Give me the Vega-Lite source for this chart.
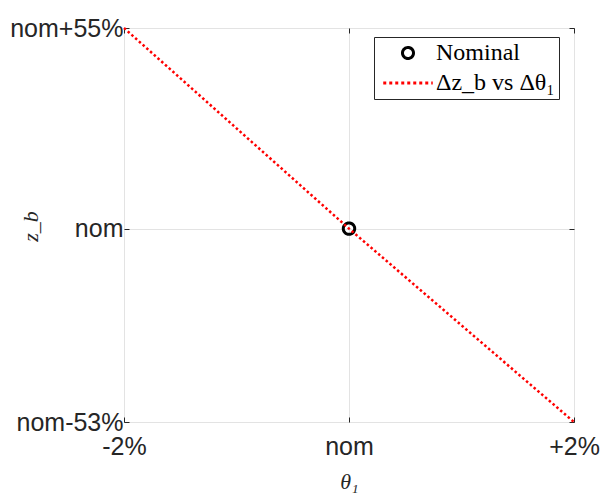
{
  "$schema": "https://vega.github.io/schema/vega-lite/v6.json",
  "width": 450,
  "height": 394,
  "autosize": {"type": "none"},
  "padding": {"left": 124, "top": 28, "right": 27, "bottom": 73},
  "background": "white",
  "data": {
    "values": [
      {"series": "Nominal", "t": 0, "z": 0},
      {"series": "Δz_b vs Δθ₁", "t": -2, "z": 55},
      {"series": "Δz_b vs Δθ₁", "t": 0, "z": 0},
      {"series": "Δz_b vs Δθ₁", "t": 2, "z": -53}
    ]
  },
  "config": {
    "view": {"stroke": "#262626", "strokeWidth": 1},
    "axis": {
      "domain": false,
      "tickColor": "#262626",
      "tickSize": -5,
      "tickWidth": 1,
      "labelFont": "Liberation Sans",
      "labelFontSize": 25,
      "labelColor": "#262626",
      "labelFlush": false,
      "gridColor": "#e3e3e3",
      "gridWidth": 1,
      "titleFont": "Liberation Serif",
      "titleFontStyle": "italic",
      "titleFontWeight": "normal",
      "titleFontSize": 22,
      "titleColor": "#262626"
    }
  },
  "layer": [
    {
      "transform": [{"filter": "datum.series === 'Nominal'"}],
      "mark": {"type": "point", "filled": false, "size": 130, "strokeWidth": 3, "opacity": 1},
      "encoding": {
        "x": {
          "field": "t", "type": "quantitative",
          "scale": {"domain": [-2, 2], "nice": false, "zero": false},
          "axis": {"orient": "top", "values": [-2, 0, 2], "labels": false, "grid": false, "title": null}
        },
        "y": {
          "field": "z", "type": "quantitative",
          "scale": {"domain": [-53, 55], "nice": false, "zero": false},
          "axis": {"orient": "right", "values": [-53, 0, 55], "labels": false, "grid": false, "title": null}
        },
        "color": {
          "field": "series", "type": "nominal",
          "scale": {"domain": ["Nominal", "Δz_b vs Δθ₁"], "range": ["#000000", "#ff0000"]},
          "legend": {
            "title": null,
            "orient": "none",
            "legendX": 250,
            "legendY": 9,
            "padding": 4,
            "strokeColor": "#262626",
            "fillColor": "white",
            "labelFont": "Liberation Serif",
            "labelFontSize": 24,
            "labelColor": "#000000",
            "labelLimit": 300,
            "labelOffset": 16,
            "symbolOffset": 18,
            "rowPadding": 6,
            "symbolSize": 121,
            "symbolStrokeWidth": 3
          }
        },
        "shape": {
          "field": "series", "type": "nominal",
          "scale": {"domain": ["Nominal", "Δz_b vs Δθ₁"], "range": ["circle", "M-4.5,0H4.5"]}
        },
        "strokeDash": {
          "field": "series", "type": "nominal",
          "scale": {"domain": ["Nominal", "Δz_b vs Δθ₁"], "range": [[1, 0], [3, 3]]}
        }
      }
    },
    {
      "transform": [{"filter": "datum.series !== 'Nominal'"}],
      "mark": {"type": "line", "color": "#ff0000", "strokeWidth": 2.5, "strokeDash": [2.5, 2.5]},
      "encoding": {
        "x": {
          "field": "t", "type": "quantitative",
          "axis": {
            "orient": "bottom", "values": [-2, 0, 2], "grid": true,
            "labelExpr": "datum.value < 0 ? '-2%' : (datum.value > 0 ? '+2%' : 'nom')",
            "labelPadding": 17,
            "title": "θ₁",
            "titleY": 66,
            "titleBaseline": "alphabetic"
          }
        },
        "y": {
          "field": "z", "type": "quantitative",
          "axis": {
            "orient": "left", "values": [-53, 0, 55], "grid": true,
            "labelExpr": "datum.value < 0 ? 'nom-53%' : (datum.value > 0 ? 'nom+55%' : 'nom')",
            "labelPadding": 6,
            "title": "z_b",
            "titleX": -87,
            "titleY": 198,
            "titleBaseline": "alphabetic",
            "encode": {"labels": {"update": {"dy": {"signal": "datum.value > 0 ? -9 : 0"}}}}
          }
        }
      }
    }
  ],
  "resolve": {"axis": {"x": "independent", "y": "independent"}}
}
